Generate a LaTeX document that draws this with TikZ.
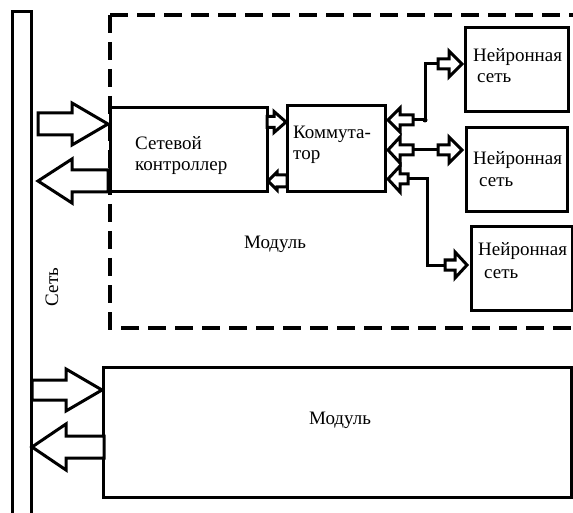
\documentclass[tikz,border=0pt]{standalone}
\usepackage{fontspec}
\setmainfont{Liberation Serif}
\newcommand{\blockarrow}[6]{%
  \draw[barrow] (#1,#4-#5) -- (#2,#4-#5) -- (#2,#4-#6) -- (#3,#4) -- (#2,#4+#6) -- (#2,#4+#5) -- (#1,#4+#5) -- cycle;}
\begin{document}
\begin{tikzpicture}[x=1pt,y=-1pt,
  box/.style={draw,line width=3pt,anchor=north west,inner sep=0pt,outer sep=0pt},
  lbl/.style={anchor=base west,inner sep=0pt,font=\fontsize{19}{22}\selectfont},
  barrow/.style={draw,fill=white,line width=3pt,line join=miter},
  wire/.style={line width=3pt},
  dashbox/.style={line width=3.5pt,dash pattern=on 18pt off 9pt}]
\useasboundingbox (0,0) rectangle (573,513);
% bus
\draw[wire] (12,515) -- (12,12) -- (31,12) -- (31,515);
\node[lbl,anchor=center,rotate=90] (set) at (52,287) {Сеть};
% dashed module
\draw[dashbox] (110,15) -- (580,15);
\draw[dashbox] (110,15) -- (110,328) -- (580,328);
\node[lbl,anchor=center] (mod1) at (275,244) {Модуль};
% boxes
\node[box,minimum width=157pt,minimum height=84pt,fill=white] (ctrl) at (110,108) {};
\node[box,minimum width=98pt,minimum height=86pt] (comm) at (287,106) {};
\node[box,minimum width=103pt,minimum height=84pt] (nn1) at (465,28) {};
\node[box,minimum width=101pt,minimum height=84pt] (nn2) at (466,128) {};
\node[box,minimum width=101pt,minimum height=83pt] (nn3) at (471,227) {};
\node[box,minimum width=468pt,minimum height=130pt] (mod2) at (103,367) {};
% labels
\node[lbl] (t1) at (135,150) {Сетевой};
\node[lbl] (t2) at (135,171) {контроллер};
\node[lbl] (t3) at (293,139) {Коммута-};
\node[lbl] (t4) at (293,160) {тор};
\node[lbl] (t5) at (473,62) {Нейронная};
\node[lbl] (t6) at (477,83) {сеть};
\node[lbl] (t7) at (473,165) {Нейронная};
\node[lbl] (t8) at (479,187) {сеть};
\node[lbl] (t9) at (478,255) {Нейронная};
\node[lbl] (t10) at (484,279) {сеть};
\node[lbl,anchor=center] (mod2t) at (340,420) {Модуль};
% big arrows, upper module
\blockarrow{38}{72}{108}{124}{11}{21}
\blockarrow{108}{72}{38}{181}{11}{22}
% controller <-> commutator
\blockarrow{267}{274}{286}{122}{5.5}{10.5}
\blockarrow{287}{277}{268}{181}{6}{9}
% commutator <- neural nets
\coordinate (j1) at (425,120);
\coordinate (j3) at (427,179);
\draw[wire] (413,120) -- (j1) -- (425,64) -- (438,64);
\draw[wire] (413,150) -- (438,150);
\draw[wire] (408,179) -- (j3) -- (427,265) -- (445,265);
\fill (j1) circle (2.5pt);
\blockarrow{413}{400}{388}{120}{5}{12}
\blockarrow{413}{400}{388}{150}{5}{13}
\blockarrow{408}{400}{388}{179}{5}{13}
\blockarrow{438}{449}{462}{64}{5}{13}
\blockarrow{438}{449}{462}{150}{5}{13}
\blockarrow{445}{455}{467}{265}{5}{13}
% bottom module arrows
\blockarrow{32}{66}{102}{390}{10}{21}
\blockarrow{104}{66}{32}{447}{11}{23}
\end{tikzpicture}
\end{document}
